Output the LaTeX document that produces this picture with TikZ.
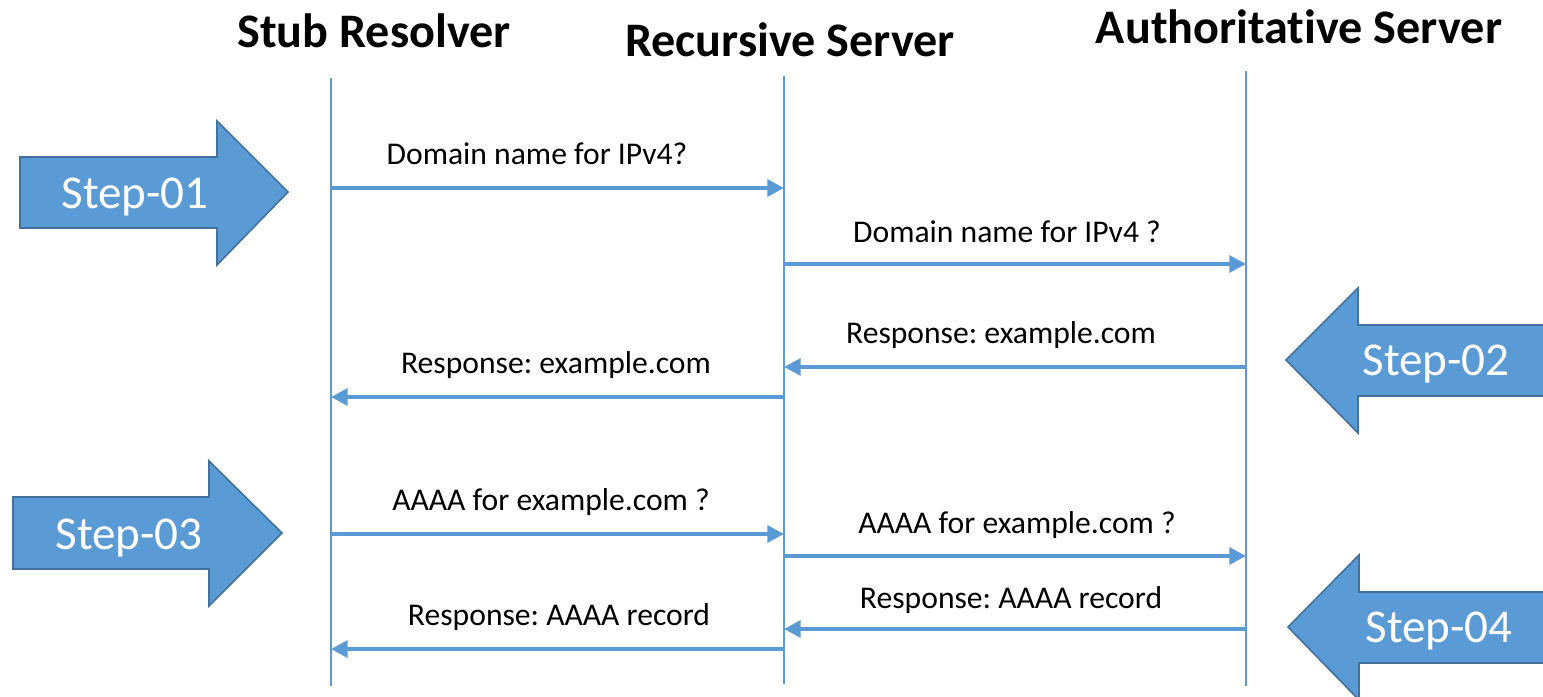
\documentclass[tikz,border=0pt]{standalone}
\usepackage{fontspec}
\setmainfont{Carlito}[Ligatures=NoCommon]
\usetikzlibrary{arrows.meta, positioning}
\definecolor{msgblue}{HTML}{5B9BD5}
\definecolor{edgeblue}{HTML}{41719C}
\frenchspacing

\begin{document}
\begin{tikzpicture}[
        x=0.02cm, y=-0.02cm,
        title/.style={font=\fontsize{27.4}{31}\selectfont\bfseries, anchor=base, inner sep=0pt},
        life/.style={draw=msgblue, line width=0.8pt},
        msg/.style={-{Triangle[length=9.5pt, width=9.5pt]}, draw=msgblue, line width=2.4pt},
        lbl/.style={font=\fontsize{18}{21}\selectfont, anchor=base, inner sep=0pt},
        blockarrow/.style={fill=msgblue, draw=edgeblue, line width=0.9pt},
        steptxt/.style={font=\fontsize{26.8}{30}\selectfont, text=white, anchor=base, inner sep=0pt}
        ]
        \useasboundingbox (0,0) rectangle (1543,697);
        % titles
        \node[title] (stub) at (374,47) {Stub Resolver};
        \node[title] (rec)  at (790,56) {Recursive Server};
        \node[title] (auth) at (1299,43) {Authoritative Server};
        % lifelines
        \coordinate (stubtop) at (331,78);   \coordinate (stubbot) at (331,686);
        \coordinate (rectop)  at (784,76);   \coordinate (recbot)  at (784,684);
        \coordinate (authtop) at (1246,71);  \coordinate (authbot) at (1246,686);
        \draw[life] (stubtop) -- (stubbot);
        \draw[life] (rectop) -- (recbot);
        \draw[life] (authtop) -- (authbot);
        % message ends
        \coordinate (s1) at (331,188);  \coordinate (r1) at (784,188);
        \coordinate (r2) at (784,264);  \coordinate (a2) at (1246,264);
        \coordinate (a3) at (1246,367); \coordinate (r3) at (784,367);
        \coordinate (r4) at (784,397);  \coordinate (s4) at (331,397);
        \coordinate (s5) at (331,534);  \coordinate (r5) at (784,534);
        \coordinate (r6) at (784,556);  \coordinate (a6) at (1246,556);
        \coordinate (a7) at (1246,629); \coordinate (r7) at (784,629);
        \coordinate (r8) at (784,649);  \coordinate (s8) at (331,649);
        % messages
        \draw[msg] (s1) -- (r1);
        \draw[msg] (r2) -- (a2);
        \draw[msg] (a3) -- (r3);
        \draw[msg] (r4) -- (s4);
        \draw[msg] (s5) -- (r5);
        \draw[msg] (r6) -- (a6);
        \draw[msg] (a7) -- (r7);
        \draw[msg] (r8) -- (s8);
        \node[lbl] (l1) at (537,164)  {Domain name for IPv4?};
        \node[lbl] (l2) at (1007,242) {Domain name for IPv4 ?};
        \node[lbl] (l3) at (1001,343) {Response: example.com};
        \node[lbl] (l4) at (556,373)  {Response: example.com};
        \node[lbl] (l5) at (551,510)  {AAAA for example.com ?};
        \node[lbl] (l6) at (1017,533) {AAAA for example.com ?};
        \node[lbl] (l7) at (1011,608) {Response: AAAA record};
        \node[lbl] (l8) at (559,625)  {Response: AAAA record};
        % step arrows
        \draw[blockarrow] (20,157) -- (217,157) -- (217,121) -- (288,192) -- (217,265) -- (217,228) -- (20,228) -- cycle;
        \draw[blockarrow] (1570,325) -- (1358,325) -- (1358,288) -- (1286,360) -- (1358,433) -- (1358,396) -- (1570,396) -- cycle;
        \draw[blockarrow] (13,497) -- (209,497) -- (209,461) -- (282,533) -- (209,606) -- (209,569) -- (13,569) -- cycle;
        \draw[blockarrow] (1570,592) -- (1359,592) -- (1359,555) -- (1288,627) -- (1359,700) -- (1359,663) -- (1570,663) -- cycle;
        \node[steptxt] (step1) at (135,208)  {Step-01};
        \node[steptxt] (step2) at (1436,375) {Step-02};
        \node[steptxt] (step3) at (129,549)  {Step-03};
        \node[steptxt] (step4) at (1439,642) {Step-04};
    \end{tikzpicture}
\end{document}
